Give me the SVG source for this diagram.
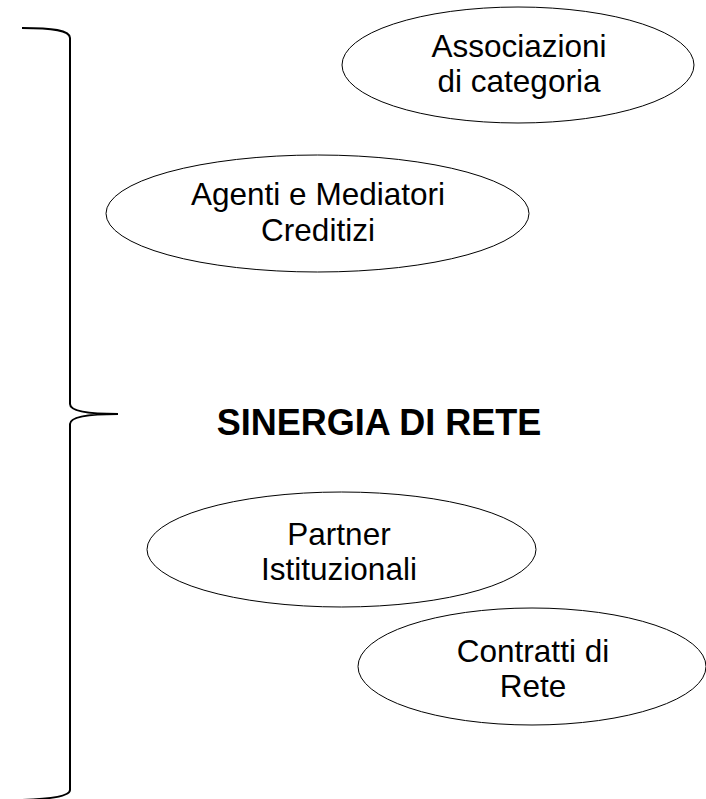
<svg xmlns="http://www.w3.org/2000/svg" width="706" height="799" viewBox="0 0 706 799">
<style>
.node ellipse{fill:#fff;stroke:#000;stroke-width:1}
.lbl{font-family:"Liberation Sans",Arial,sans-serif;font-size:31.5px;fill:#000;text-anchor:middle}
.title{font-family:"Liberation Sans",Arial,sans-serif;font-size:36px;font-weight:bold;fill:#000;text-anchor:middle}
.brace{fill:none;stroke:#000;stroke-width:2}
</style>
<rect width="706" height="799" fill="#fff"/>
<g id="connectors">
<path class="brace" d="M22,28 C52,28 70,30 70,38 L70,404 C70,411 88,414 118,414 C88,414 70,417 70,424 L70,790 C70,796 52,799 22,800"/>
</g>
<g id="node-associazioni" class="node">
<ellipse cx="518" cy="65" rx="176" ry="58"/>
<text class="lbl" x="519" y="57">Associazioni</text>
<text class="lbl" x="519" y="92">di categoria</text>
</g>
<g id="node-agenti" class="node">
<ellipse cx="317.5" cy="213.5" rx="211.5" ry="58.5"/>
<text class="lbl" x="318" y="205">Agenti e Mediatori</text>
<text class="lbl" x="318" y="241">Creditizi</text>
</g>
<g id="node-sinergia">
<text class="title" x="379" y="435">SINERGIA DI RETE</text>
</g>
<g id="node-partner" class="node">
<ellipse cx="341.5" cy="549.5" rx="194.5" ry="57.5"/>
<text class="lbl" x="339" y="545">Partner</text>
<text class="lbl" x="339" y="580">Istituzionali</text>
</g>
<g id="node-contratti" class="node">
<ellipse cx="532" cy="666.5" rx="174" ry="58.5"/>
<text class="lbl" x="533" y="662">Contratti di</text>
<text class="lbl" x="533" y="697">Rete</text>
</g>
</svg>
